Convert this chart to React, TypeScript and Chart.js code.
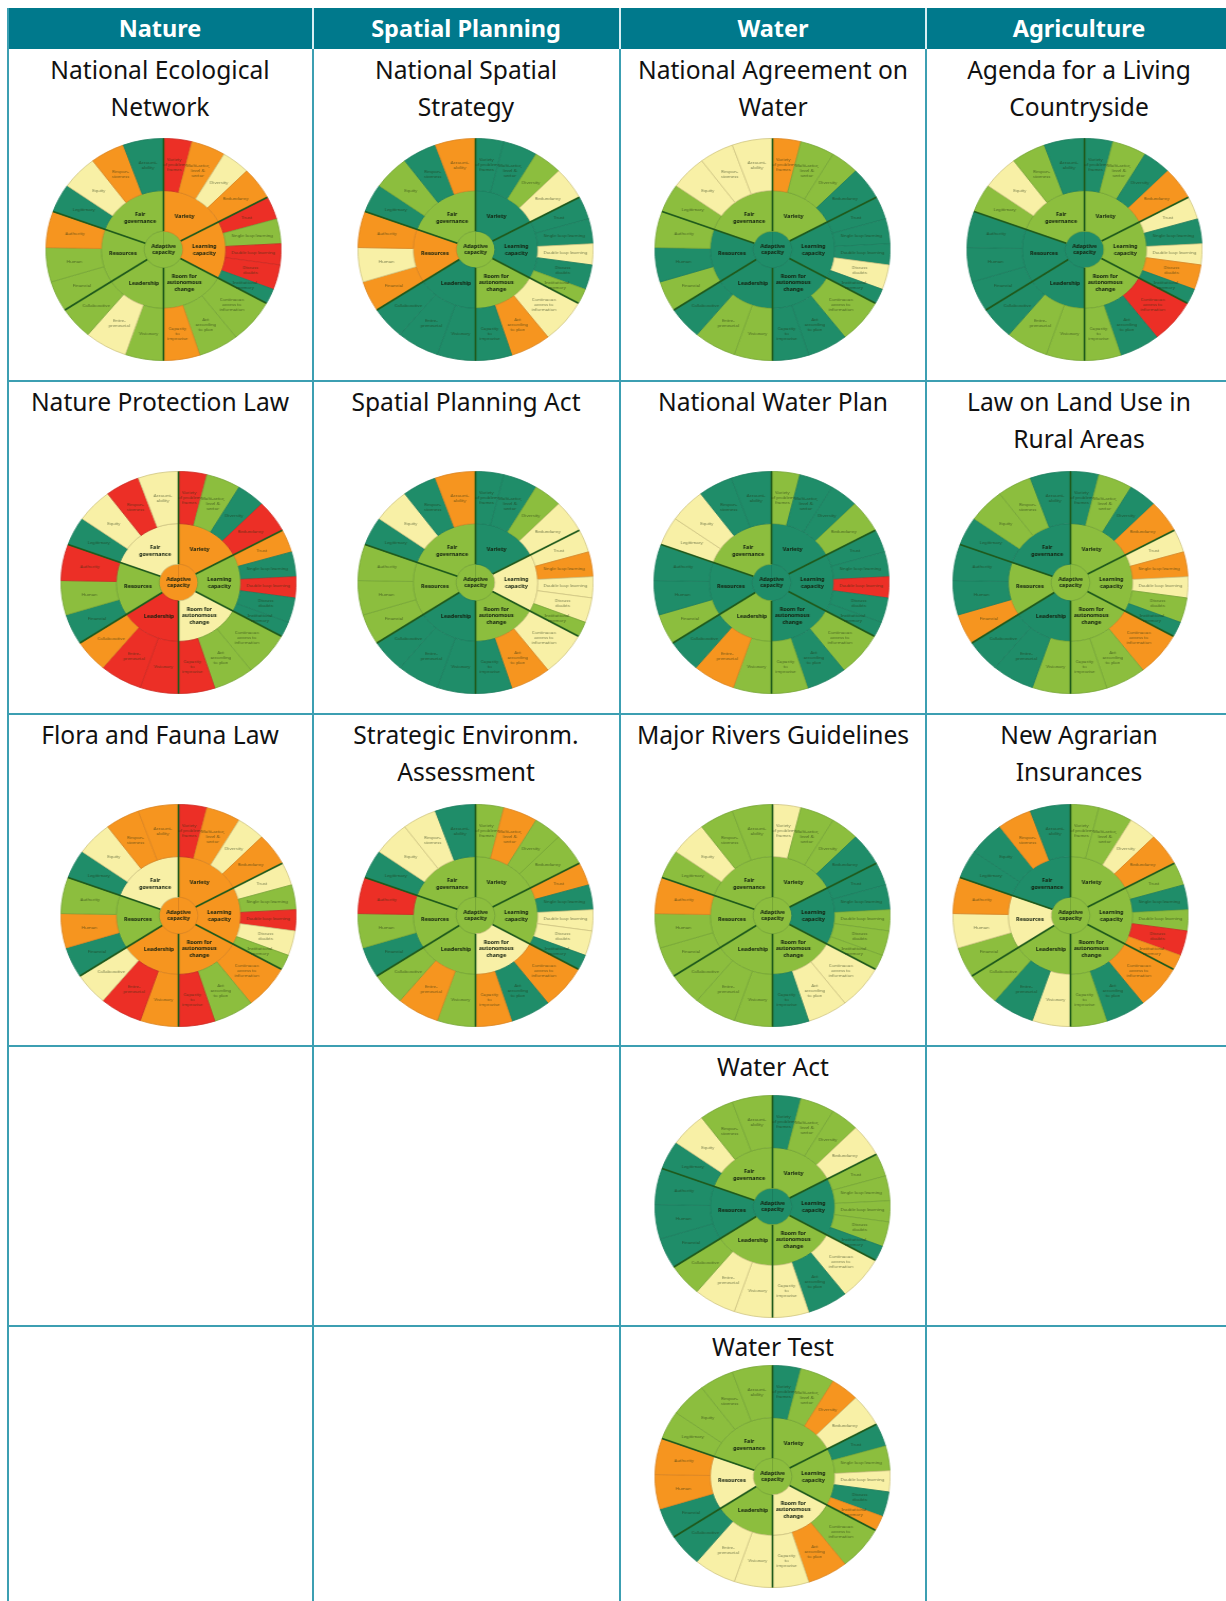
import React, { useEffect, useRef } from "react";
import { Chart, registerables } from "chart.js";

Chart.register(...registerables);

// ratings: +2 teal, +1 green, 0 yellow, -1 orange, -2 red
const T = 2, G = 1, Y = 0, O = -1, R = -2;

const columns = ["Nature", "Spatial Planning", "Water", "Agriculture"];

// Outer ring, clockwise from the top
const outerLabels = [
  ["Variety", "of problem", "frames"], ["Multi-actor,", "level &", "sector"], ["Diversity"], ["Redundancy"],
  ["Trust"], ["Single loop learning"], ["Double loop learning"], ["Discuss", "doubts"], ["Institutional", "memory"],
  ["Continuous", "access to", "information"], ["Act", "according", "to plan"], ["Capacity", "to", "improvise"],
  ["Visionary"], ["Entre-", "preneurial"], ["Collaborative"],
  ["Financial"], ["Human"], ["Authority"],
  ["Legitimacy"], ["Equity"], ["Respon-", "siveness"], ["Account-", "ability"],
];
const outerSpans = [14, 17, 14, 17, 12, 13, 11, 13, 8, 23, 20, 18, 19, 21, 17, 16, 18, 19, 15, 18, 17, 20];

// Middle ring, clockwise from the top
const middleLabels = [
  ["Variety"], ["Learning", "capacity"], ["Room for", "autonomous", "change"],
  ["Leadership"], ["Resources"], ["Fair", "governance"],
];
const middleSpans = [62, 57, 61, 57, 53, 70];
const centerLabel = ["Adaptive", "capacity"];

const nenOuter = [R, O, Y, O, R, G, R, R, T, G, G, O, G, Y, G, G, G, O, T, Y, O, T];
const nenMiddle = [O, O, G, G, G, G];
const nssOuter = [T, T, G, Y, T, T, Y, T, G, Y, O, T, T, T, T, O, Y, O, T, G, T, O];
const nssMiddle = [T, T, G, T, O, G];
const nawOuter = [O, G, G, T, T, T, T, Y, T, G, T, T, G, G, T, G, T, G, G, Y, Y, Y];
const nawMiddle = [G, T, T, T, T, G];
const alcOuter = [T, G, T, O, Y, T, Y, O, T, R, T, G, G, G, T, T, T, T, G, Y, G, T];
const alcMiddle = [G, G, G, T, T, G];
const nplOuter = [R, G, T, R, O, T, R, T, T, G, G, R, R, R, O, T, G, R, T, Y, R, Y];
const nplMiddle = [O, G, Y, R, G, Y];
const spaOuter = [T, T, G, Y, Y, O, Y, Y, G, Y, O, T, T, T, T, G, G, G, T, Y, T, O];
const spaMiddle = [T, Y, G, T, G, G];
const nwpOuter = [G, T, T, G, T, T, R, T, T, G, T, G, G, O, T, G, T, T, Y, Y, T, T];
const nwpMiddle = [T, T, T, G, T, G];
const lluOuter = [T, G, T, O, Y, O, Y, G, T, O, G, G, G, T, T, O, T, T, T, G, G, T];
const lluMiddle = [G, G, G, T, G, T];
const ffOuter = [R, O, Y, O, Y, G, R, Y, G, O, G, R, O, R, Y, T, O, G, T, Y, O, O];
const ffMiddle = [O, O, O, O, G, Y];
const seaOuter = [G, O, G, G, O, T, Y, Y, T, O, T, O, G, O, G, T, G, R, T, Y, Y, T];
const seaMiddle = [G, G, Y, G, G, G];
const mrgOuter = [Y, G, G, T, T, T, G, G, G, Y, Y, T, G, G, G, G, G, O, G, Y, G, G];
const mrgMiddle = [G, T, G, G, G, G];
const naiOuter = [G, G, Y, O, G, T, G, R, O, O, T, G, Y, T, G, G, Y, O, T, T, O, T];
const naiMiddle = [G, G, G, G, Y, T];
const wactOuter = [T, G, G, Y, G, G, G, G, T, Y, T, Y, Y, Y, G, T, T, T, T, Y, G, G];
const wactMiddle = [G, T, G, G, T, G];
const wtestOuter = [T, G, O, Y, T, G, Y, T, O, G, O, Y, Y, Y, T, T, O, O, G, G, G, G];
const wtestMiddle = [G, G, Y, G, Y, G];

const palette: Record<number, string> = {
  2: "#1f8d69", 1: "#8cbe3e", 0: "#f8f0a6", [-1]: "#f6951f", [-2]: "#ec2f26",
};
const edgePalette: Record<number, string> = {
  2: "#1c7d5e", 1: "#76a636", 0: "#cfc583", [-1]: "#db8420", [-2]: "#cd2a22",
};

type Wheel = { title: string[]; col: number; top: number; cx: number; cy: number; outer: number[]; middle: number[]; center: number };

const wheels: Wheel[] = [
  { title: ["National Ecological", "Network"], col: 0, top: 49, cx: 163, cy: 249, outer: nenOuter, middle: nenMiddle, center: G },
  { title: ["National Spatial", "Strategy"], col: 1, top: 49, cx: 475, cy: 249, outer: nssOuter, middle: nssMiddle, center: G },
  { title: ["National Agreement on", "Water"], col: 2, top: 49, cx: 772, cy: 249, outer: nawOuter, middle: nawMiddle, center: T },
  { title: ["Agenda for a Living", "Countryside"], col: 3, top: 49, cx: 1084, cy: 249, outer: alcOuter, middle: alcMiddle, center: T },
  { title: ["Nature Protection Law"], col: 0, top: 381, cx: 178, cy: 582, outer: nplOuter, middle: nplMiddle, center: O },
  { title: ["Spatial Planning Act"], col: 1, top: 381, cx: 475, cy: 582, outer: spaOuter, middle: spaMiddle, center: G },
  { title: ["National Water Plan"], col: 2, top: 381, cx: 771, cy: 582, outer: nwpOuter, middle: nwpMiddle, center: T },
  { title: ["Law on Land Use in", "Rural Areas"], col: 3, top: 381, cx: 1070, cy: 582, outer: lluOuter, middle: lluMiddle, center: G },
  { title: ["Flora and Fauna Law"], col: 0, top: 714, cx: 178, cy: 915, outer: ffOuter, middle: ffMiddle, center: O },
  { title: ["Strategic Environm.", "Assessment"], col: 1, top: 714, cx: 475, cy: 915, outer: seaOuter, middle: seaMiddle, center: G },
  { title: ["Major Rivers Guidelines"], col: 2, top: 714, cx: 772, cy: 915, outer: mrgOuter, middle: mrgMiddle, center: G },
  { title: ["New Agrarian", "Insurances"], col: 3, top: 714, cx: 1070, cy: 915, outer: naiOuter, middle: naiMiddle, center: G },
  { title: ["Water Act"], col: 2, top: 1046, cx: 772, cy: 1206, outer: wactOuter, middle: wactMiddle, center: T },
  { title: ["Water Test"], col: 2, top: 1326, cx: 772, cy: 1476, outer: wtestOuter, middle: wtestMiddle, center: G },
];

const colLines = [7, 313, 620, 926, 1226];
const colWidth = 306;
const rowLines = [381, 714, 1046, 1326];
const LINE = "#3c9fb2";
const HEAD = "#00798c";
const FONT = '"Noto Sans", sans-serif';
const RY = 111.5;
const RX = 118;

const wheelPlugin = {
  id: "wheelDecor",
  afterDatasetsDraw(chart: any) {
    const { ctx } = chart;
    const outerMeta = chart.getDatasetMeta(0);
    const midMeta = chart.getDatasetMeta(1);
    const coreMeta = chart.getDatasetMeta(2);
    const rim = outerMeta.data[0].outerRadius;
    ctx.save();
    // thick dividers between the six main sectors
    ctx.strokeStyle = "#1f5a1c";
    ctx.lineWidth = 1.7;
    midMeta.data.forEach((a: any) => {
      const c = Math.cos(a.endAngle), s = Math.sin(a.endAngle);
      ctx.beginPath();
      ctx.moveTo(a.x + c * a.innerRadius, a.y + s * a.innerRadius);
      ctx.lineTo(a.x + c * rim, a.y + s * rim);
      ctx.stroke();
    });
    ctx.textAlign = "center";
    ctx.textBaseline = "middle";
    const write = (lines: string[], x: number, y: number, lh: number) => {
      lines.forEach((t, i) => ctx.fillText(t, x, y + (i - (lines.length - 1) / 2) * lh));
    };
    ctx.fillStyle = "rgba(35,50,20,0.62)";
    ctx.font = `4.2px ${FONT}`;
    outerMeta.data.forEach((a: any, i: number) => {
      const p = a.getCenterPoint();
      write(outerLabels[i], p.x, p.y, 5);
    });
    ctx.fillStyle = "#14210f";
    ctx.font = `bold 5.2px ${FONT}`;
    midMeta.data.forEach((a: any, i: number) => {
      const p = a.getCenterPoint();
      write(middleLabels[i], p.x, p.y, 6.6);
    });
    const c = coreMeta.data[0];
    write(centerLabel, c.x, c.y, 6.2);
    ctx.restore();
  },
};

function WheelChart({ w }: { w: Wheel }) {
  const ref = useRef<HTMLCanvasElement>(null);
  useEffect(() => {
    const chart = new Chart(ref.current!, {
      type: "doughnut",
      data: {
        datasets: [
          {
            data: outerSpans, weight: 0.47,
            backgroundColor: w.outer.map((v) => palette[v]),
            borderColor: w.outer.map((v) => edgePalette[v]),
          },
          {
            data: middleSpans, weight: 0.365,
            backgroundColor: w.middle.map((v) => palette[v]),
            borderColor: w.middle.map((v) => edgePalette[v]),
          },
          {
            data: [360], weight: 0.165,
            backgroundColor: [palette[w.center]],
            borderColor: [edgePalette[w.center]],
          },
        ],
      },
      options: {
        animation: false,
        responsive: false,
        cutout: 0,
        rotation: 0,
        circumference: 360,
        layout: { padding: 0 },
        events: [],
        elements: { arc: { borderWidth: 0.8, borderAlign: "center" } },
        plugins: { legend: { display: false }, tooltip: { enabled: false }, title: { display: false } },
      } as any,
      plugins: [wheelPlugin],
    } as any);
    return () => chart.destroy();
  }, [w]);
  const size = Math.round(RY * 2);
  return (
    <canvas
      ref={ref}
      width={size}
      height={size}
      style={{
        position: "absolute",
        left: w.cx - size / 2,
        top: w.cy - size / 2,
        width: size,
        height: size,
        transform: `scaleX(${RX / RY})`,
        filter: "blur(0.7px)",
      }}
    />
  );
}

export default function App() {
  return (
    <div style={{ position: "absolute", left: 0, top: 0, width: 1226, height: 1601, overflow: "hidden", background: "#fff", fontFamily: FONT }}>
      {columns.map((c, i) => (
        <div
          key={c}
          style={{
            position: "absolute", left: colLines[i], top: 8, width: colLines[i + 1] - colLines[i], height: 41,
            background: HEAD,
          }}
        >
          <div style={{ width: colWidth, color: "#fff", fontWeight: 700, fontSize: 23.5, lineHeight: "41px", textAlign: "center" }}>{c}</div>
        </div>
      ))}
      {colLines.slice(0, 4).map((x, i) => (
        <div key={x} style={{ position: "absolute", left: x - (i === 0 ? 0 : 1), top: 8, width: 1.5, height: 1593, background: LINE }} />
      ))}
      {colLines.slice(1, 4).map((x) => (
        <div key={"h" + x} style={{ position: "absolute", left: x - 1, top: 8, width: 1.5, height: 41, background: "#d8eef2" }} />
      ))}
      {rowLines.map((y) => (
        <div key={y} style={{ position: "absolute", left: 7, top: y - 1, width: 1219, height: 1.5, background: LINE }} />
      ))}
      {wheels.map((w) => (
        <React.Fragment key={w.title.join(" ")}>
          <div
            style={{
              position: "absolute", left: colLines[w.col], width: colWidth, top: w.top + 2,
              fontSize: 24.6, lineHeight: "37.4px", color: "#111", textAlign: "center", whiteSpace: "nowrap",
            }}
          >
            {w.title.map((t) => (
              <div key={t}>{t}</div>
            ))}
          </div>
          <WheelChart w={w} />
        </React.Fragment>
      ))}
    </div>
  );
}
